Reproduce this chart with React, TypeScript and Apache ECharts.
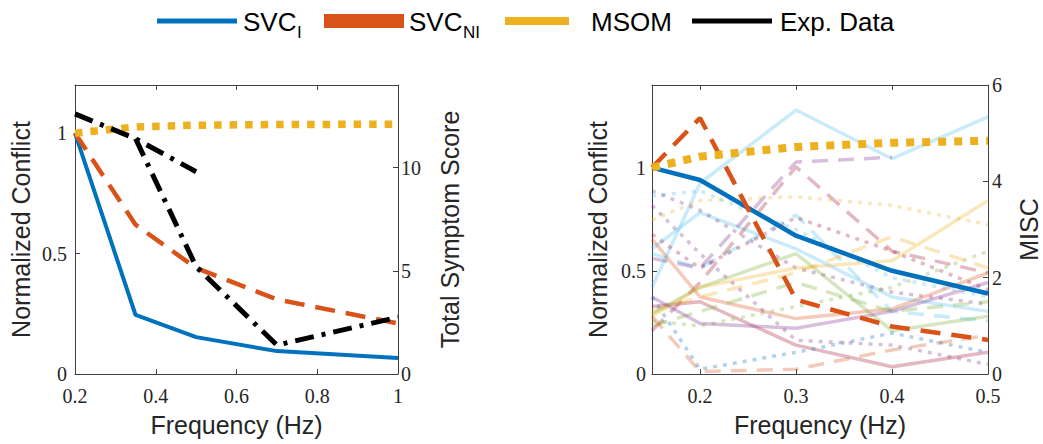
import React, { useEffect, useRef } from "react";
import * as echarts from "echarts";

// ---------- Left panel data ----------
const leftFreq = [0.2, 0.35, 0.5, 0.7, 1.0];
const leftSvcI = [1.0, 0.245, 0.153, 0.095, 0.066];
const leftSvcNI = [1.0, 0.62, 0.44, 0.31, 0.21];
const leftMsom = [1.0, 1.026, 1.033, 1.036, 1.037];
const expDataA = [12.6, 11.4, 9.8, null, null];
const expDataB = [null, 11.4, 5.2, 1.4, 2.75];

// ---------- Right panel data ----------
const rightFreq = [0.15, 0.2, 0.3, 0.4, 0.5];
const rightSvcI = [1.0, 0.94, 0.67, 0.5, 0.39];
const rightSvcNI = [1.0, 1.24, 0.36, 0.23, 0.165];
const rightMsom = [1.0, 1.053, 1.1, 1.12, 1.13];

// individual subjects' MISC (faint lines)
const misc01 = [1.8, 3.96, 5.48, 4.47, 5.34];
const misc02 = [2.6, 3.35, 2.6, 1.6, 1.3];
const misc03 = [2.5, 2.2, 3.3, 1.3, 1.1];
const misc04 = [3.7, 3.8, 3.0, 2.0, 1.6];
const misc05 = [2.4, 2.2, 4.4, 4.5, null];
const misc06 = [0.9, 1.9, 4.3, 2.55, 2.1];
const misc07 = [3.8, 3.4, 2.2, 1.7, 1.45];
const misc08 = [2.9, 2.2, 3.25, 2.55, 1.75];
const misc09 = [1.4, 1.5, 0.6, 0.15, 0.45];
const misc10 = [2.8, 1.6, 1.15, 1.35, 2.1];
const misc11 = [1.25, 1.8, 2.5, 0.9, 1.2];
const misc12 = [1.0, 1.3, 1.9, 1.3, 1.5];
const misc13 = [1.1, 1.0, 1.4, 1.8, 2.55];
const misc14 = [3.2, 3.6, 3.68, 3.5, 3.1];
const misc15 = [1.2, 1.8, 2.2, 2.35, 3.6];
const misc16 = [1.3, 1.6, 2.1, 2.85, 2.2];
const misc17 = [1.2, 0.05, 0.1, 0.5, 0.8];
const misc18 = [1.6, 0.1, 0.45, 0.85, 0.45];
const misc19 = [1.6, 1.05, 0.95, 1.3, 1.9];
const misc20 = [3.5, 2.5, 0.7, 0.6, 0.2];

// ---------- Ticks ----------
const leftXTicks = [0.2, 0.4, 0.6, 0.8, 1];
const rightXTicks = [0.2, 0.3, 0.4, 0.5];
const conflictTicks = [0, 0.5, 1];
const symptomTicks = [0, 5, 10];
const miscTicks = [0, 2, 4, 6];

// ---------- Styles ----------
const C = {
  blue: "#0072BD",
  orange: "#D95319",
  yellow: "#EDB120",
  purple: "#7E2F8E",
  green: "#77AC30",
  lightblue: "#4DBEEE",
  darkred: "#A2142F",
};
const SOLID = "solid";
const DASH = [16, 10];
const DOT = [4, 6];

const faintLines = [
  { d: misc01, c: C.lightblue, t: SOLID },
  { d: misc02, c: C.lightblue, t: SOLID },
  { d: misc03, c: C.lightblue, t: DASH },
  { d: misc04, c: C.lightblue, t: DOT },
  { d: misc05, c: C.purple, t: DASH },
  { d: misc06, c: C.darkred, t: DASH },
  { d: misc07, c: C.purple, t: DOT },
  { d: misc08, c: C.darkred, t: DOT },
  { d: misc09, c: C.darkred, t: SOLID },
  { d: misc10, c: C.orange, t: SOLID },
  { d: misc11, c: C.green, t: SOLID },
  { d: misc12, c: C.green, t: DASH },
  { d: misc13, c: C.green, t: DOT },
  { d: misc14, c: C.yellow, t: DOT },
  { d: misc15, c: C.yellow, t: SOLID },
  { d: misc16, c: C.yellow, t: DASH },
  { d: misc17, c: C.orange, t: DASH },
  { d: misc18, c: C.blue, t: DOT },
  { d: misc19, c: C.purple, t: SOLID },
  { d: misc20, c: C.purple, t: DOT },
];

const AX = "#404040";
const TXT = "#262626";
const SANS = "Liberation Sans, Arial, sans-serif";
const SERIF = "Liberation Serif, Times New Roman, serif";

function pairs(xs: number[], ys: (number | null)[]) {
  return xs.map((x, i) => [x, ys[i]]).filter((p) => p[1] !== null && p[1] !== undefined);
}

const fmt = (v: number) => String(Number(v.toFixed(2)));

function xAxisCfg(gridIndex: number, min: number, max: number, ticks: number[], position: string, showLabels: boolean) {
  return {
    type: "value",
    gridIndex,
    min,
    max,
    position,
    axisLine: { show: true, onZero: false, lineStyle: { color: AX, width: 1 } },
    axisTick: { show: true, inside: true, length: 5, customValues: ticks, lineStyle: { color: AX } },
    axisLabel: {
      show: showLabels,
      customValues: ticks,
      margin: 12,
      fontFamily: SERIF,
      fontSize: 20,
      color: TXT,
      formatter: fmt,
    },
    splitLine: { show: false },
    name: showLabels ? "Frequency (Hz)" : "",
    nameLocation: "middle",
    nameGap: 38,
    nameTextStyle: { fontFamily: SANS, fontSize: 25, color: TXT },
  };
}

function yAxisCfg(gridIndex: number, min: number, max: number, ticks: number[], position: string, name: string, nameGap: number, margin: number) {
  return {
    type: "value",
    gridIndex,
    min,
    max,
    position,
    axisLine: { show: true, onZero: false, lineStyle: { color: AX, width: 1 } },
    axisTick: { show: true, inside: true, length: 5, customValues: ticks, lineStyle: { color: AX } },
    axisLabel: {
      customValues: ticks,
      margin,
      fontFamily: SERIF,
      fontSize: 20,
      color: TXT,
      formatter: fmt,
    },
    splitLine: { show: false },
    name,
    nameLocation: "middle",
    nameGap,
    nameTextStyle: { fontFamily: SANS, fontSize: 25, color: TXT },
  };
}

function legendGraphic() {
  const tStyle = (text: string, x: number, y: number, size: number) => ({
    type: "text",
    x,
    y,
    style: { text, fontFamily: SANS, fontSize: size, fill: "#000", verticalAlign: "middle", align: "left" },
  });
  return [
    { type: "line", shape: { x1: 157, y1: 21, x2: 237, y2: 21 }, style: { stroke: C.blue, lineWidth: 5 } },
    tStyle("SVC", 243, 22, 26),
    tStyle("I", 297, 32, 17),
    { type: "rect", shape: { x: 324, y: 14, width: 80, height: 14 }, style: { fill: C.orange } },
    tStyle("SVC", 409, 22, 26),
    tStyle("NI", 463, 32, 17),
    { type: "rect", shape: { x: 505, y: 17, width: 64, height: 8 }, style: { fill: C.yellow } },
    tStyle("MSOM", 591, 22, 26),
    { type: "line", shape: { x1: 692, y1: 21, x2: 772, y2: 21 }, style: { stroke: "#000", lineWidth: 5 } },
    tStyle("Exp. Data", 780, 22, 26),
  ];
}

export default function App() {
  const ref = useRef<HTMLDivElement>(null);

  useEffect(() => {
    if (!ref.current) return;
    const chart = echarts.init(ref.current, undefined, { renderer: "svg" });

    const faintSeries = faintLines.map((f, i) => ({
      type: "line",
      name: "subject" + (i + 1),
      xAxisIndex: 2,
      yAxisIndex: 3,
      data: pairs(rightFreq, f.d),
      symbol: "none",
      silent: true,
      lineStyle: { color: f.c, width: 3.5, type: f.t, opacity: 0.3, cap: "butt" },
      z: 1,
    }));

    const option = {
      animation: false,
      backgroundColor: "#fff",
      textStyle: { fontFamily: SANS },
      grid: [
        { left: 75, top: 85, width: 323, height: 289, containLabel: false },
        { left: 652, top: 85, width: 336, height: 289, containLabel: false },
      ],
      xAxis: [
        xAxisCfg(0, 0.2, 1, leftXTicks, "bottom", true),
        xAxisCfg(0, 0.2, 1, leftXTicks, "top", false),
        xAxisCfg(1, 0.15, 0.5, rightXTicks, "bottom", true),
        xAxisCfg(1, 0.15, 0.5, rightXTicks, "top", false),
      ],
      yAxis: [
        yAxisCfg(0, 0, 1.2, conflictTicks, "left", "Normalized Conflict", 42, 8),
        yAxisCfg(0, 0, 14, symptomTicks, "right", "Total Symptom Score", 39, 3),
        yAxisCfg(1, 0, 1.4, conflictTicks, "left", "Normalized Conflict", 42, 6),
        yAxisCfg(1, 0, 6, miscTicks, "right", "MISC", 28, 4),
      ],
      graphic: legendGraphic(),
      series: [
        ...faintSeries,
        {
          type: "line", name: "SVC_I", xAxisIndex: 0, yAxisIndex: 0, data: pairs(leftFreq, leftSvcI),
          symbol: "none", lineStyle: { color: C.blue, width: 4 }, z: 3,
        },
        {
          type: "line", name: "SVC_NI", xAxisIndex: 0, yAxisIndex: 0, data: pairs(leftFreq, leftSvcNI),
          symbol: "none", lineStyle: { color: C.orange, width: 4.5, type: [20, 11], cap: "butt" }, z: 4,
        },
        {
          type: "line", name: "MSOM", xAxisIndex: 0, yAxisIndex: 0, data: pairs(leftFreq, leftMsom),
          symbol: "none", lineStyle: { color: C.yellow, width: 7.5, type: [7.5, 8], cap: "butt" }, z: 5,
        },
        {
          type: "line", name: "Exp. Data A", xAxisIndex: 0, yAxisIndex: 1, data: pairs(leftFreq, expDataA),
          symbol: "none", lineStyle: { color: "#000", width: 5, type: [19, 8, 4, 8], cap: "butt" }, z: 6,
        },
        {
          type: "line", name: "Exp. Data B", xAxisIndex: 0, yAxisIndex: 1, data: pairs(leftFreq, expDataB),
          symbol: "none", lineStyle: { color: "#000", width: 5, type: [19, 8, 4, 8], cap: "butt" }, z: 6,
        },
        {
          type: "line", name: "SVC_I right", xAxisIndex: 2, yAxisIndex: 2, data: pairs(rightFreq, rightSvcI),
          symbol: "none", lineStyle: { color: C.blue, width: 4.5 }, z: 3,
        },
        {
          type: "line", name: "SVC_NI right", xAxisIndex: 2, yAxisIndex: 2, data: pairs(rightFreq, rightSvcNI),
          symbol: "none", lineStyle: { color: C.orange, width: 4.5, type: [20, 11], cap: "butt" }, z: 4,
        },
        {
          type: "line", name: "MSOM right", xAxisIndex: 2, yAxisIndex: 2, data: pairs(rightFreq, rightMsom),
          symbol: "none", lineStyle: { color: C.yellow, width: 8, type: [8, 8], cap: "butt" }, z: 5,
        },
      ],
    };

    chart.setOption(option as any);
    return () => chart.dispose();
  }, []);

  return (
    <div
      ref={ref}
      style={{ position: "fixed", left: 0, top: 0, width: 1043, height: 444, background: "#fff" }}
    />
  );
}
